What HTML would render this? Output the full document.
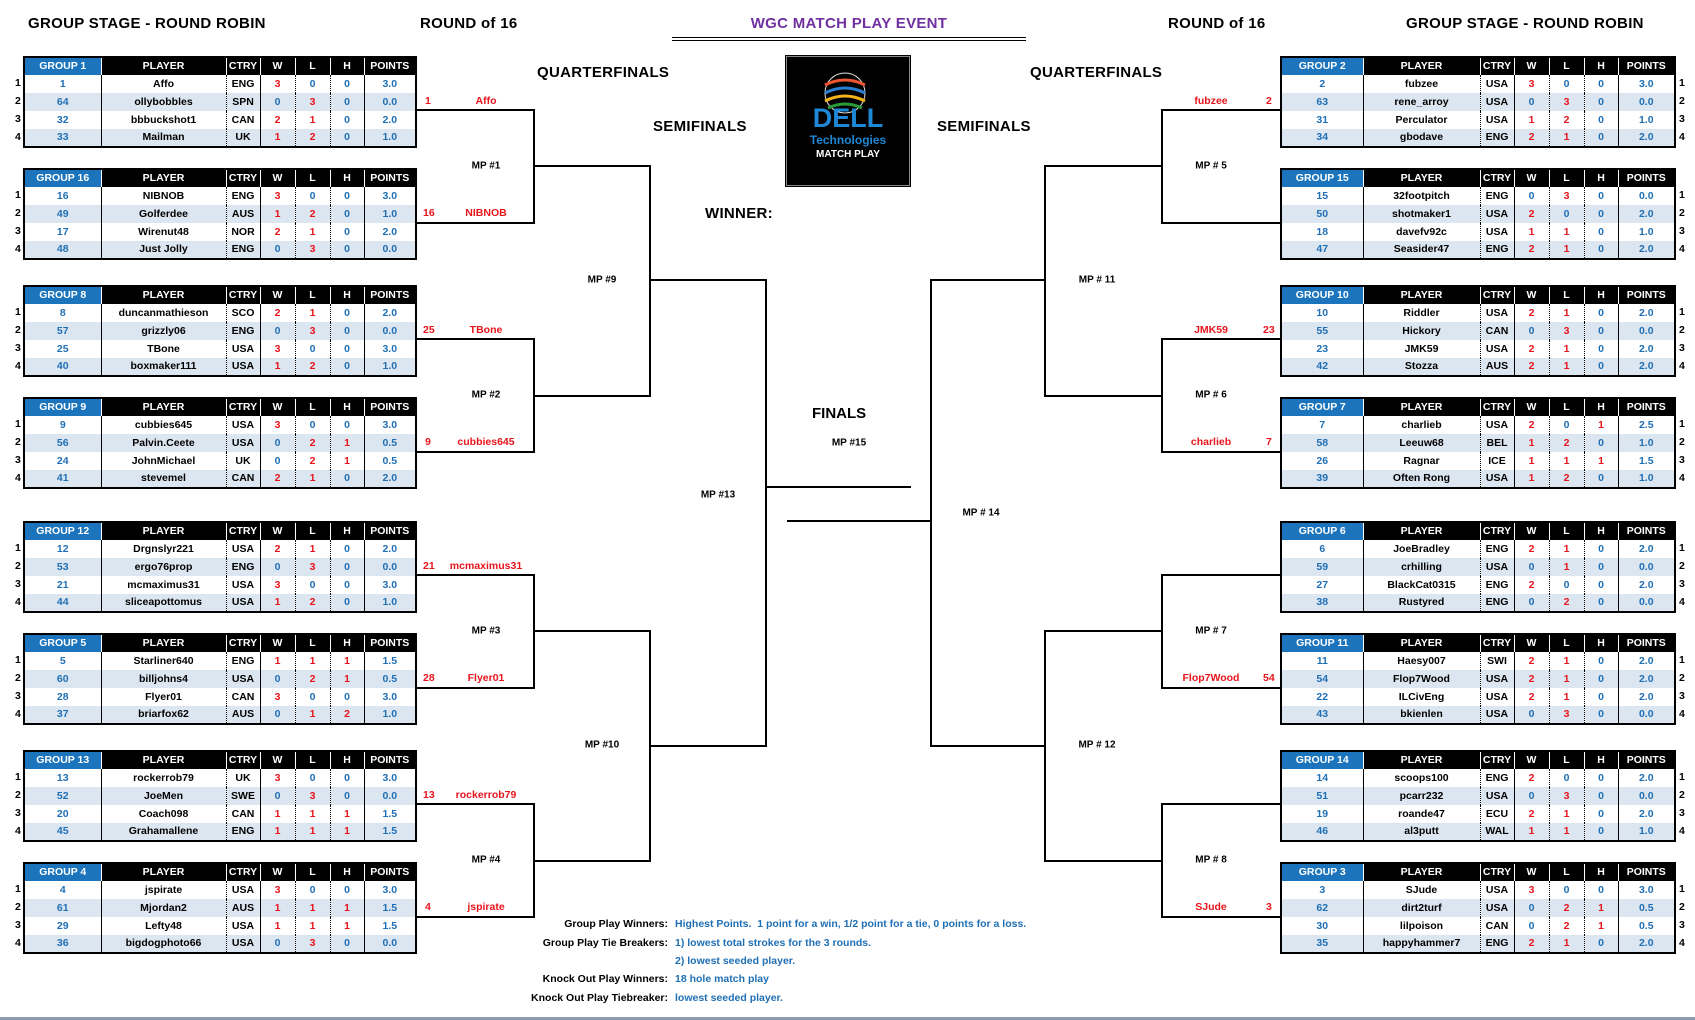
<!DOCTYPE html>
<html><head><meta charset="utf-8">
<style>
*{margin:0;padding:0;box-sizing:border-box}
body{width:1695px;height:1020px;background:#fff;position:relative;overflow:hidden;font-family:"Liberation Sans",sans-serif;font-weight:bold;color:#000}
.a{position:absolute;white-space:nowrap}
.h1{font-size:15px;letter-spacing:0.3px}
.t{position:absolute;border:2px solid #000;border-collapse:collapse;table-layout:fixed;font-size:10.5px;height:92px}
.t td{height:18px;text-align:center;padding:0;line-height:17px;overflow:hidden;color:#1f6fb5}
.t tr:nth-child(odd) td{background:#dce6f1}
.t tr:nth-child(even) td{background:#fff}
.t td:nth-child(2),.t td:nth-child(3){color:#000}
.t tr td:nth-child(2){border-left:1px solid #000}
.t tr td:nth-child(3){border-left:1px dotted #000}
.t tr td:nth-child(4){border-left:1px solid #000}
.t tr td:nth-child(5),.t tr td:nth-child(6){border-left:1px dotted #000}
.t tr td:nth-child(7){border-left:1px solid #000}
.t td.r{color:#e8141c}
.t tr.hd td{background:#000;color:#fff;border-left:1px solid #fff}
.t tr.hd td:first-child{background:#1c75bc;border-left:none}
.L{left:23px;width:394px}
.R{left:1280px;width:396px}
.rn{position:absolute;font-size:10.5px;line-height:18px}
.bx{position:absolute;border:2px solid #000}
.bl{border-left:none}.br{border-right:none}
.ln{position:absolute;height:2px;background:#000}
.mp{position:absolute;font-size:10px;transform:translate(-50%,-50%);white-space:nowrap}
.wn{position:absolute;font-size:10.5px;color:#e8141c;transform:translateY(-50%);white-space:nowrap}
.nt{position:absolute;font-size:10.5px;white-space:nowrap}
</style></head><body>

<div class="a h1" style="left:28px;top:15px">GROUP STAGE - ROUND ROBIN</div>
<div class="a h1" style="left:420px;top:15px">ROUND of 16</div>
<div class="a h1" style="left:1168px;top:15px">ROUND of 16</div>
<div class="a h1" style="left:1406px;top:15px">GROUP STAGE - ROUND ROBIN</div>
<div class="a h1" style="left:672px;width:354px;text-align:center;top:15px;color:#7030a0">WGC MATCH PLAY EVENT</div>
<div class="a" style="left:672px;top:37px;width:354px;height:4px;border-top:1px solid #000;border-bottom:1px solid #000"></div>

<div class="a h1" style="left:537px;top:64px">QUARTERFINALS</div>
<div class="a h1" style="left:1030px;top:64px">QUARTERFINALS</div>
<div class="a h1" style="left:653px;top:118px">SEMIFINALS</div>
<div class="a h1" style="left:937px;top:118px">SEMIFINALS</div>
<div class="a h1" style="left:705px;top:205px">WINNER:</div>
<div class="a" style="left:812px;top:405px;font-size:15px">FINALS</div>
<div class="mp" style="left:849px;top:443px">MP #15</div>

<div class="a" style="left:786px;top:56px;width:124px;height:130px;background:#000;border:1px solid #888;outline:1px solid #000">
<svg width="122" height="128" viewBox="0 0 122 128" style="position:absolute;left:0;top:0">
<circle cx="58" cy="36" r="20" fill="none" stroke="#ddd" stroke-width="1"/>
<path d="M38 28 Q58 18 78 28" stroke="#e53" stroke-width="3" fill="none"/>
<path d="M38 36 Q58 26 78 36" stroke="#2a7fd0" stroke-width="3" fill="none"/>
<path d="M38 44 Q58 34 78 44" stroke="#f2b31a" stroke-width="3" fill="none"/>
<path d="M41 51 Q58 43 75 51" stroke="#2a9a3a" stroke-width="3" fill="none"/>
<text x="61" y="70" text-anchor="middle" font-family="Liberation Sans" font-weight="bold" font-size="27" fill="#1e88d6">DELL</text>
<text x="61" y="87" text-anchor="middle" font-family="Liberation Sans" font-size="12" fill="#1e88d6">Technologies</text>
<text x="61" y="100" text-anchor="middle" font-family="Liberation Sans" font-size="10" fill="#fff">MATCH PLAY</text>
</svg></div>

<table class="t L" style="top:56px"><tr class="hd"><td style="width:77px">GROUP 1</td><td style="width:125px">PLAYER</td><td style="width:34px">CTRY</td><td style="width:35px">W</td><td style="width:35px">L</td><td style="width:34px">H</td><td>POINTS</td></tr>
<tr><td>1</td><td>Affo</td><td>ENG</td><td class=r>3</td><td>0</td><td>0</td><td>3.0</td></tr>
<tr><td>64</td><td>ollybobbles</td><td>SPN</td><td>0</td><td class=r>3</td><td>0</td><td>0.0</td></tr>
<tr><td>32</td><td>bbbuckshot1</td><td>CAN</td><td class=r>2</td><td class=r>1</td><td>0</td><td>2.0</td></tr>
<tr><td>33</td><td>Mailman</td><td>UK</td><td class=r>1</td><td class=r>2</td><td>0</td><td>1.0</td></tr></table>

<table class="t L" style="top:168px"><tr class="hd"><td style="width:77px">GROUP 16</td><td style="width:125px">PLAYER</td><td style="width:34px">CTRY</td><td style="width:35px">W</td><td style="width:35px">L</td><td style="width:34px">H</td><td>POINTS</td></tr>
<tr><td>16</td><td>NIBNOB</td><td>ENG</td><td class=r>3</td><td>0</td><td>0</td><td>3.0</td></tr>
<tr><td>49</td><td>Golferdee</td><td>AUS</td><td class=r>1</td><td class=r>2</td><td>0</td><td>1.0</td></tr>
<tr><td>17</td><td>Wirenut48</td><td>NOR</td><td class=r>2</td><td class=r>1</td><td>0</td><td>2.0</td></tr>
<tr><td>48</td><td>Just Jolly</td><td>ENG</td><td>0</td><td class=r>3</td><td>0</td><td>0.0</td></tr></table>

<table class="t L" style="top:285px"><tr class="hd"><td style="width:77px">GROUP 8</td><td style="width:125px">PLAYER</td><td style="width:34px">CTRY</td><td style="width:35px">W</td><td style="width:35px">L</td><td style="width:34px">H</td><td>POINTS</td></tr>
<tr><td>8</td><td>duncanmathieson</td><td>SCO</td><td class=r>2</td><td class=r>1</td><td>0</td><td>2.0</td></tr>
<tr><td>57</td><td>grizzly06</td><td>ENG</td><td>0</td><td class=r>3</td><td>0</td><td>0.0</td></tr>
<tr><td>25</td><td>TBone</td><td>USA</td><td class=r>3</td><td>0</td><td>0</td><td>3.0</td></tr>
<tr><td>40</td><td>boxmaker111</td><td>USA</td><td class=r>1</td><td class=r>2</td><td>0</td><td>1.0</td></tr></table>

<table class="t L" style="top:397px"><tr class="hd"><td style="width:77px">GROUP 9</td><td style="width:125px">PLAYER</td><td style="width:34px">CTRY</td><td style="width:35px">W</td><td style="width:35px">L</td><td style="width:34px">H</td><td>POINTS</td></tr>
<tr><td>9</td><td>cubbies645</td><td>USA</td><td class=r>3</td><td>0</td><td>0</td><td>3.0</td></tr>
<tr><td>56</td><td>Palvin.Ceete</td><td>USA</td><td>0</td><td class=r>2</td><td class=r>1</td><td>0.5</td></tr>
<tr><td>24</td><td>JohnMichael</td><td>UK</td><td>0</td><td class=r>2</td><td class=r>1</td><td>0.5</td></tr>
<tr><td>41</td><td>stevemel</td><td>CAN</td><td class=r>2</td><td class=r>1</td><td>0</td><td>2.0</td></tr></table>

<table class="t L" style="top:521px"><tr class="hd"><td style="width:77px">GROUP 12</td><td style="width:125px">PLAYER</td><td style="width:34px">CTRY</td><td style="width:35px">W</td><td style="width:35px">L</td><td style="width:34px">H</td><td>POINTS</td></tr>
<tr><td>12</td><td>Drgnslyr221</td><td>USA</td><td class=r>2</td><td class=r>1</td><td>0</td><td>2.0</td></tr>
<tr><td>53</td><td>ergo76prop</td><td>ENG</td><td>0</td><td class=r>3</td><td>0</td><td>0.0</td></tr>
<tr><td>21</td><td>mcmaximus31</td><td>USA</td><td class=r>3</td><td>0</td><td>0</td><td>3.0</td></tr>
<tr><td>44</td><td>sliceapottomus</td><td>USA</td><td class=r>1</td><td class=r>2</td><td>0</td><td>1.0</td></tr></table>

<table class="t L" style="top:633px"><tr class="hd"><td style="width:77px">GROUP 5</td><td style="width:125px">PLAYER</td><td style="width:34px">CTRY</td><td style="width:35px">W</td><td style="width:35px">L</td><td style="width:34px">H</td><td>POINTS</td></tr>
<tr><td>5</td><td>Starliner640</td><td>ENG</td><td class=r>1</td><td class=r>1</td><td class=r>1</td><td>1.5</td></tr>
<tr><td>60</td><td>billjohns4</td><td>USA</td><td>0</td><td class=r>2</td><td class=r>1</td><td>0.5</td></tr>
<tr><td>28</td><td>Flyer01</td><td>CAN</td><td class=r>3</td><td>0</td><td>0</td><td>3.0</td></tr>
<tr><td>37</td><td>briarfox62</td><td>AUS</td><td>0</td><td class=r>1</td><td class=r>2</td><td>1.0</td></tr></table>

<table class="t L" style="top:750px"><tr class="hd"><td style="width:77px">GROUP 13</td><td style="width:125px">PLAYER</td><td style="width:34px">CTRY</td><td style="width:35px">W</td><td style="width:35px">L</td><td style="width:34px">H</td><td>POINTS</td></tr>
<tr><td>13</td><td>rockerrob79</td><td>UK</td><td class=r>3</td><td>0</td><td>0</td><td>3.0</td></tr>
<tr><td>52</td><td>JoeMen</td><td>SWE</td><td>0</td><td class=r>3</td><td>0</td><td>0.0</td></tr>
<tr><td>20</td><td>Coach098</td><td>CAN</td><td class=r>1</td><td class=r>1</td><td class=r>1</td><td>1.5</td></tr>
<tr><td>45</td><td>Grahamallene</td><td>ENG</td><td class=r>1</td><td class=r>1</td><td class=r>1</td><td>1.5</td></tr></table>

<table class="t L" style="top:862px"><tr class="hd"><td style="width:77px">GROUP 4</td><td style="width:125px">PLAYER</td><td style="width:34px">CTRY</td><td style="width:35px">W</td><td style="width:35px">L</td><td style="width:34px">H</td><td>POINTS</td></tr>
<tr><td>4</td><td>jspirate</td><td>USA</td><td class=r>3</td><td>0</td><td>0</td><td>3.0</td></tr>
<tr><td>61</td><td>Mjordan2</td><td>AUS</td><td class=r>1</td><td class=r>1</td><td class=r>1</td><td>1.5</td></tr>
<tr><td>29</td><td>Lefty48</td><td>USA</td><td class=r>1</td><td class=r>1</td><td class=r>1</td><td>1.5</td></tr>
<tr><td>36</td><td>bigdogphoto66</td><td>USA</td><td>0</td><td class=r>3</td><td>0</td><td>0.0</td></tr></table>

<table class="t R" style="top:56px"><tr class="hd"><td style="width:82px">GROUP 2</td><td style="width:117px">PLAYER</td><td style="width:34px">CTRY</td><td style="width:35px">W</td><td style="width:35px">L</td><td style="width:34px">H</td><td>POINTS</td></tr>
<tr><td>2</td><td>fubzee</td><td>USA</td><td class=r>3</td><td>0</td><td>0</td><td>3.0</td></tr>
<tr><td>63</td><td>rene_arroy</td><td>USA</td><td>0</td><td class=r>3</td><td>0</td><td>0.0</td></tr>
<tr><td>31</td><td>Perculator</td><td>USA</td><td class=r>1</td><td class=r>2</td><td>0</td><td>1.0</td></tr>
<tr><td>34</td><td>gbodave</td><td>ENG</td><td class=r>2</td><td class=r>1</td><td>0</td><td>2.0</td></tr></table>

<table class="t R" style="top:168px"><tr class="hd"><td style="width:82px">GROUP 15</td><td style="width:117px">PLAYER</td><td style="width:34px">CTRY</td><td style="width:35px">W</td><td style="width:35px">L</td><td style="width:34px">H</td><td>POINTS</td></tr>
<tr><td>15</td><td>32footpitch</td><td>ENG</td><td>0</td><td class=r>3</td><td>0</td><td>0.0</td></tr>
<tr><td>50</td><td>shotmaker1</td><td>USA</td><td class=r>2</td><td>0</td><td>0</td><td>2.0</td></tr>
<tr><td>18</td><td>davefv92c</td><td>USA</td><td class=r>1</td><td class=r>1</td><td>0</td><td>1.0</td></tr>
<tr><td>47</td><td>Seasider47</td><td>ENG</td><td class=r>2</td><td class=r>1</td><td>0</td><td>2.0</td></tr></table>

<table class="t R" style="top:285px"><tr class="hd"><td style="width:82px">GROUP 10</td><td style="width:117px">PLAYER</td><td style="width:34px">CTRY</td><td style="width:35px">W</td><td style="width:35px">L</td><td style="width:34px">H</td><td>POINTS</td></tr>
<tr><td>10</td><td>Riddler</td><td>USA</td><td class=r>2</td><td class=r>1</td><td>0</td><td>2.0</td></tr>
<tr><td>55</td><td>Hickory</td><td>CAN</td><td>0</td><td class=r>3</td><td>0</td><td>0.0</td></tr>
<tr><td>23</td><td>JMK59</td><td>USA</td><td class=r>2</td><td class=r>1</td><td>0</td><td>2.0</td></tr>
<tr><td>42</td><td>Stozza</td><td>AUS</td><td class=r>2</td><td class=r>1</td><td>0</td><td>2.0</td></tr></table>

<table class="t R" style="top:397px"><tr class="hd"><td style="width:82px">GROUP 7</td><td style="width:117px">PLAYER</td><td style="width:34px">CTRY</td><td style="width:35px">W</td><td style="width:35px">L</td><td style="width:34px">H</td><td>POINTS</td></tr>
<tr><td>7</td><td>charlieb</td><td>USA</td><td class=r>2</td><td>0</td><td class=r>1</td><td>2.5</td></tr>
<tr><td>58</td><td>Leeuw68</td><td>BEL</td><td class=r>1</td><td class=r>2</td><td>0</td><td>1.0</td></tr>
<tr><td>26</td><td>Ragnar</td><td>ICE</td><td class=r>1</td><td class=r>1</td><td class=r>1</td><td>1.5</td></tr>
<tr><td>39</td><td>Often Rong</td><td>USA</td><td class=r>1</td><td class=r>2</td><td>0</td><td>1.0</td></tr></table>

<table class="t R" style="top:521px"><tr class="hd"><td style="width:82px">GROUP 6</td><td style="width:117px">PLAYER</td><td style="width:34px">CTRY</td><td style="width:35px">W</td><td style="width:35px">L</td><td style="width:34px">H</td><td>POINTS</td></tr>
<tr><td>6</td><td>JoeBradley</td><td>ENG</td><td class=r>2</td><td class=r>1</td><td>0</td><td>2.0</td></tr>
<tr><td>59</td><td>crhilling</td><td>USA</td><td>0</td><td class=r>1</td><td>0</td><td>0.0</td></tr>
<tr><td>27</td><td>BlackCat0315</td><td>ENG</td><td class=r>2</td><td>0</td><td>0</td><td>2.0</td></tr>
<tr><td>38</td><td>Rustyred</td><td>ENG</td><td>0</td><td class=r>2</td><td>0</td><td>0.0</td></tr></table>

<table class="t R" style="top:633px"><tr class="hd"><td style="width:82px">GROUP 11</td><td style="width:117px">PLAYER</td><td style="width:34px">CTRY</td><td style="width:35px">W</td><td style="width:35px">L</td><td style="width:34px">H</td><td>POINTS</td></tr>
<tr><td>11</td><td>Haesy007</td><td>SWI</td><td class=r>2</td><td class=r>1</td><td>0</td><td>2.0</td></tr>
<tr><td>54</td><td>Flop7Wood</td><td>USA</td><td class=r>2</td><td class=r>1</td><td>0</td><td>2.0</td></tr>
<tr><td>22</td><td>ILCivEng</td><td>USA</td><td class=r>2</td><td class=r>1</td><td>0</td><td>2.0</td></tr>
<tr><td>43</td><td>bkienlen</td><td>USA</td><td>0</td><td class=r>3</td><td>0</td><td>0.0</td></tr></table>

<table class="t R" style="top:750px"><tr class="hd"><td style="width:82px">GROUP 14</td><td style="width:117px">PLAYER</td><td style="width:34px">CTRY</td><td style="width:35px">W</td><td style="width:35px">L</td><td style="width:34px">H</td><td>POINTS</td></tr>
<tr><td>14</td><td>scoops100</td><td>ENG</td><td class=r>2</td><td>0</td><td>0</td><td>2.0</td></tr>
<tr><td>51</td><td>pcarr232</td><td>USA</td><td>0</td><td class=r>3</td><td>0</td><td>0.0</td></tr>
<tr><td>19</td><td>roande47</td><td>ECU</td><td class=r>2</td><td class=r>1</td><td>0</td><td>2.0</td></tr>
<tr><td>46</td><td>al3putt</td><td>WAL</td><td class=r>1</td><td class=r>1</td><td>0</td><td>1.0</td></tr></table>

<table class="t R" style="top:862px"><tr class="hd"><td style="width:82px">GROUP 3</td><td style="width:117px">PLAYER</td><td style="width:34px">CTRY</td><td style="width:35px">W</td><td style="width:35px">L</td><td style="width:34px">H</td><td>POINTS</td></tr>
<tr><td>3</td><td>SJude</td><td>USA</td><td class=r>3</td><td>0</td><td>0</td><td>3.0</td></tr>
<tr><td>62</td><td>dirt2turf</td><td>USA</td><td>0</td><td class=r>2</td><td class=r>1</td><td>0.5</td></tr>
<tr><td>30</td><td>lilpoison</td><td>CAN</td><td>0</td><td class=r>2</td><td class=r>1</td><td>0.5</td></tr>
<tr><td>35</td><td>happyhammer7</td><td>ENG</td><td class=r>2</td><td class=r>1</td><td>0</td><td>2.0</td></tr></table>

<div class="rn" style="left:15px;top:74px">1<br>2<br>3<br>4</div>
<div class="rn" style="left:15px;top:186px">1<br>2<br>3<br>4</div>
<div class="rn" style="left:15px;top:303px">1<br>2<br>3<br>4</div>
<div class="rn" style="left:15px;top:415px">1<br>2<br>3<br>4</div>
<div class="rn" style="left:15px;top:539px">1<br>2<br>3<br>4</div>
<div class="rn" style="left:15px;top:651px">1<br>2<br>3<br>4</div>
<div class="rn" style="left:15px;top:768px">1<br>2<br>3<br>4</div>
<div class="rn" style="left:15px;top:880px">1<br>2<br>3<br>4</div>
<div class="rn" style="left:1679px;top:74px">1<br>2<br>3<br>4</div>
<div class="rn" style="left:1679px;top:186px">1<br>2<br>3<br>4</div>
<div class="rn" style="left:1679px;top:303px">1<br>2<br>3<br>4</div>
<div class="rn" style="left:1679px;top:415px">1<br>2<br>3<br>4</div>
<div class="rn" style="left:1679px;top:539px">1<br>2<br>3<br>4</div>
<div class="rn" style="left:1679px;top:651px">1<br>2<br>3<br>4</div>
<div class="rn" style="left:1679px;top:768px">1<br>2<br>3<br>4</div>
<div class="rn" style="left:1679px;top:880px">1<br>2<br>3<br>4</div>

<div class="bx bl" style="left:417px;top:109px;width:118px;height:115px"></div>
<div class="bx bl" style="left:417px;top:338px;width:118px;height:115px"></div>
<div class="bx bl" style="left:417px;top:574px;width:118px;height:115px"></div>
<div class="bx bl" style="left:417px;top:803px;width:118px;height:115px"></div>
<div class="bx bl" style="left:533px;top:165px;width:118px;height:232px"></div>
<div class="bx bl" style="left:533px;top:630px;width:118px;height:232px"></div>
<div class="bx bl" style="left:649px;top:279px;width:118px;height:468px"></div>
<div class="ln" style="left:765px;top:486px;width:146px"></div>

<div class="bx br" style="left:1161px;top:109px;width:119px;height:115px"></div>
<div class="bx br" style="left:1161px;top:338px;width:119px;height:115px"></div>
<div class="bx br" style="left:1161px;top:574px;width:119px;height:115px"></div>
<div class="bx br" style="left:1161px;top:803px;width:119px;height:115px"></div>
<div class="bx br" style="left:1044px;top:165px;width:119px;height:232px"></div>
<div class="bx br" style="left:1044px;top:630px;width:119px;height:232px"></div>
<div class="bx br" style="left:930px;top:279px;width:116px;height:468px"></div>
<div class="ln" style="left:787px;top:520px;width:145px"></div>

<div class="mp" style="left:486px;top:166px">MP #1</div>
<div class="mp" style="left:486px;top:395px">MP #2</div>
<div class="mp" style="left:486px;top:631px">MP #3</div>
<div class="mp" style="left:486px;top:860px">MP #4</div>
<div class="mp" style="left:602px;top:280px">MP #9</div>
<div class="mp" style="left:602px;top:745px">MP #10</div>
<div class="mp" style="left:718px;top:495px">MP #13</div>
<div class="mp" style="left:1211px;top:166px">MP # 5</div>
<div class="mp" style="left:1211px;top:395px">MP # 6</div>
<div class="mp" style="left:1211px;top:631px">MP # 7</div>
<div class="mp" style="left:1211px;top:860px">MP # 8</div>
<div class="mp" style="left:1097px;top:280px">MP # 11</div>
<div class="mp" style="left:1097px;top:745px">MP # 12</div>
<div class="mp" style="left:981px;top:513px">MP # 14</div>

<div class="wn" style="left:425px;top:101px">1</div><div class="wn" style="left:486px;top:101px;transform:translate(-50%,-50%)">Affo</div>
<div class="wn" style="left:423px;top:213px">16</div><div class="wn" style="left:486px;top:213px;transform:translate(-50%,-50%)">NIBNOB</div>
<div class="wn" style="left:423px;top:330px">25</div><div class="wn" style="left:486px;top:330px;transform:translate(-50%,-50%)">TBone</div>
<div class="wn" style="left:425px;top:442px">9</div><div class="wn" style="left:486px;top:442px;transform:translate(-50%,-50%)">cubbies645</div>
<div class="wn" style="left:423px;top:566px">21</div><div class="wn" style="left:486px;top:566px;transform:translate(-50%,-50%)">mcmaximus31</div>
<div class="wn" style="left:423px;top:678px">28</div><div class="wn" style="left:486px;top:678px;transform:translate(-50%,-50%)">Flyer01</div>
<div class="wn" style="left:423px;top:795px">13</div><div class="wn" style="left:486px;top:795px;transform:translate(-50%,-50%)">rockerrob79</div>
<div class="wn" style="left:425px;top:907px">4</div><div class="wn" style="left:486px;top:907px;transform:translate(-50%,-50%)">jspirate</div>
<div class="wn" style="left:1211px;top:101px;transform:translate(-50%,-50%)">fubzee</div><div class="wn" style="left:1266px;top:101px">2</div>
<div class="wn" style="left:1211px;top:330px;transform:translate(-50%,-50%)">JMK59</div><div class="wn" style="left:1263px;top:330px">23</div>
<div class="wn" style="left:1211px;top:442px;transform:translate(-50%,-50%)">charlieb</div><div class="wn" style="left:1266px;top:442px">7</div>
<div class="wn" style="left:1211px;top:678px;transform:translate(-50%,-50%)">Flop7Wood</div><div class="wn" style="left:1263px;top:678px">54</div>
<div class="wn" style="left:1211px;top:907px;transform:translate(-50%,-50%)">SJude</div><div class="wn" style="left:1266px;top:907px">3</div>

<div class="nt" style="right:1027px;top:918px;text-align:right">Group Play Winners:</div>
<div class="nt" style="right:1027px;top:937px">Group Play Tie Breakers:</div>
<div class="nt" style="right:1027px;top:973px">Knock Out Play Winners:</div>
<div class="nt" style="right:1027px;top:992px">Knock Out Play Tiebreaker:</div>
<div class="nt" style="left:675px;top:918px;color:#1f6fb5">Highest Points.&nbsp; 1 point for a win, 1/2 point for a tie, 0 points for a loss.</div>
<div class="nt" style="left:675px;top:937px;color:#1f6fb5">1) lowest total strokes for the 3 rounds.</div>
<div class="nt" style="left:675px;top:955px;color:#1f6fb5">2) lowest seeded player.</div>
<div class="nt" style="left:675px;top:973px;color:#1f6fb5">18 hole match play</div>
<div class="nt" style="left:675px;top:992px;color:#1f6fb5">lowest seeded player.</div>

<div class="a" style="left:0;top:1017px;width:1695px;height:3px;background:#8a9bb0"></div>
</body></html>
